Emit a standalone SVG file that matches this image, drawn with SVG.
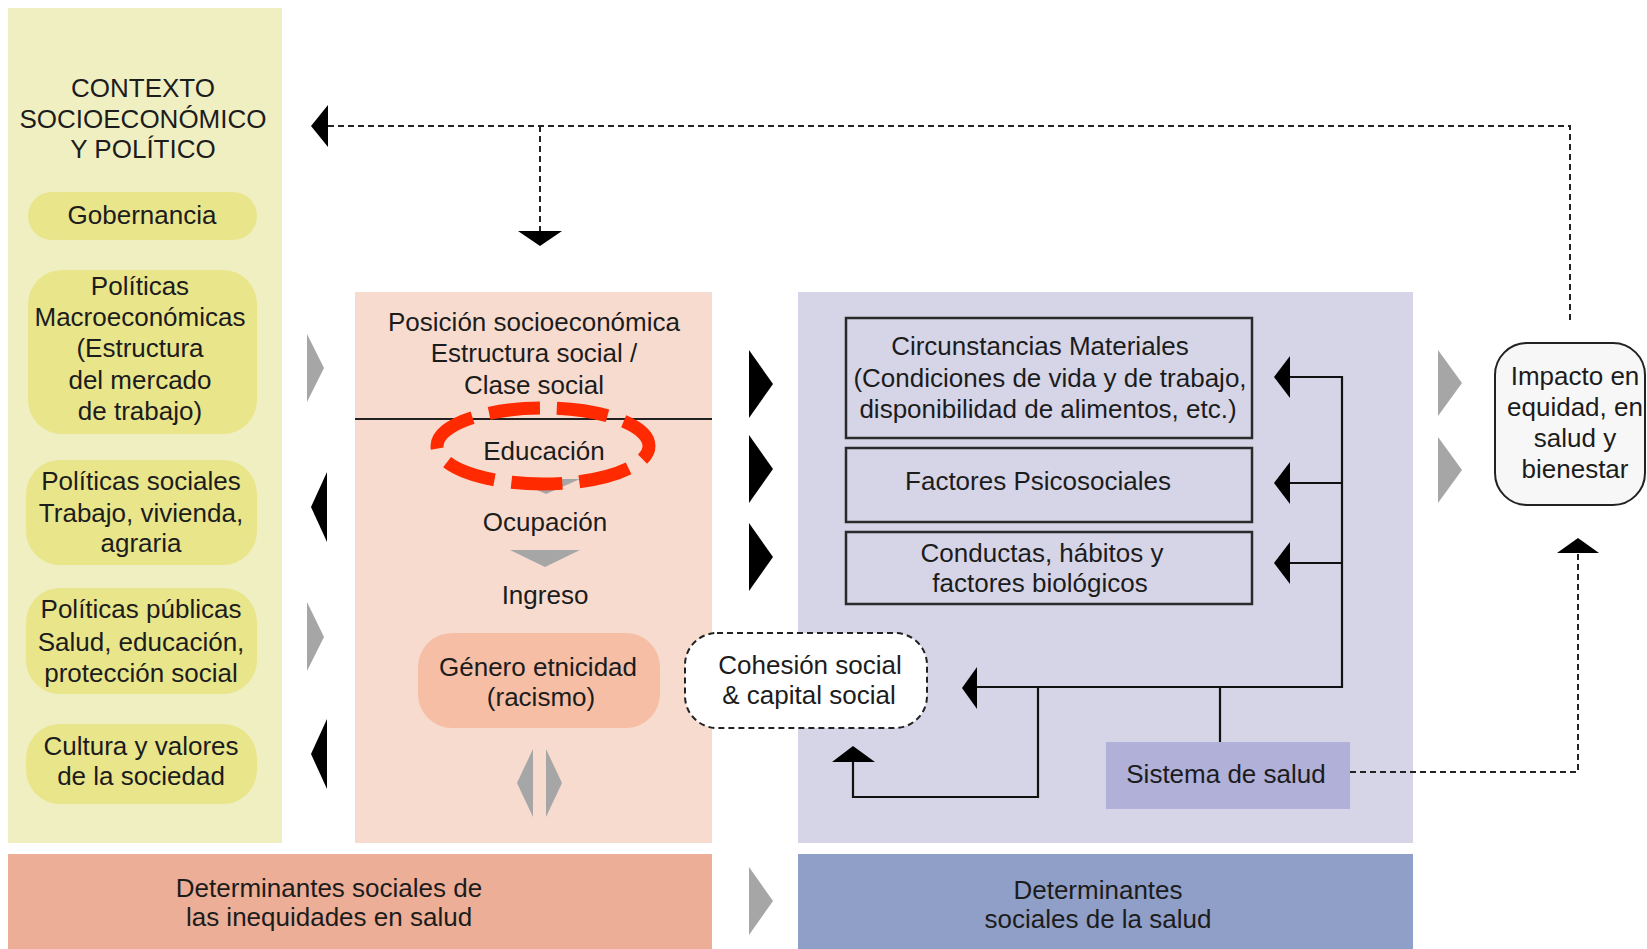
<svg xmlns="http://www.w3.org/2000/svg" width="1647" height="949" viewBox="0 0 1647 949">
<style>
text{font-family:"Liberation Sans",Arial,sans-serif;font-size:26px;fill:#1c1c1c;text-anchor:middle}
.pill{fill:#e9e58b}
.box{fill:none;stroke:#2a2a2a;stroke-width:2.5}
.ln{fill:none;stroke:#111;stroke-width:2.2}
.dash{fill:none;stroke:#222;stroke-width:2;stroke-dasharray:6 4}
.blk{fill:#000}
.gry{fill:#a6a6a6}
</style>
<rect width="1647" height="949" fill="#ffffff"/>

<g id="panel-contexto">
<rect x="8" y="8" width="274" height="835" fill="#f0efc1"/>
<text x="143" y="97">CONTEXTO</text>
<text x="143" y="128">SOCIOECONÓMICO</text>
<text x="143" y="158">Y POLÍTICO</text>
</g>
<g id="gobernancia">
<rect class="pill" x="28" y="192" width="229" height="48" rx="24"/>
<text x="142" y="224">Gobernancia</text>
</g>
<g id="politicas-macro">
<rect class="pill" x="28" y="270" width="229" height="164" rx="34"/>
<text x="140" y="295">Políticas</text>
<text x="140" y="326">Macroeconómicas</text>
<text x="140" y="357">(Estructura</text>
<text x="140" y="389">del mercado</text>
<text x="140" y="420">de trabajo)</text>
</g>
<g id="politicas-sociales">
<rect class="pill" x="26" y="460" width="231" height="105" rx="34"/>
<text x="141" y="490">Políticas sociales</text>
<text x="141" y="522">Trabajo, vivienda,</text>
<text x="141" y="552">agraria</text>
</g>
<g id="politicas-publicas">
<rect class="pill" x="26" y="588" width="231" height="106" rx="34"/>
<text x="141" y="618">Políticas públicas</text>
<text x="141" y="651">Salud, educación,</text>
<text x="141" y="682">protección social</text>
</g>
<g id="cultura">
<rect class="pill" x="26" y="724" width="231" height="80" rx="34"/>
<text x="141" y="755">Cultura y valores</text>
<text x="141" y="785">de la sociedad</text>
</g>

<g id="posicion">
<rect x="355" y="292" width="357" height="551" fill="#f7dbcf"/>
<text x="534" y="331">Posición socioeconómica</text>
<text x="534" y="362">Estructura social /</text>
<text x="534" y="394">Clase social</text>
<line x1="355" y1="419" x2="712" y2="419" stroke="#222" stroke-width="2"/>
<text x="544" y="460">Educación</text>
<polygon class="gry" points="512,479 580,479 546,494"/>
<text x="545" y="531">Ocupación</text>
<polygon class="gry" points="510,550 580,550 545,567"/>
<text x="545" y="604">Ingreso</text>
<polygon class="gry" points="533,749 517,783 533,817"/>
<polygon class="gry" points="546,749 562,783 546,817"/>
</g>
<g id="genero">
<rect x="418" y="633" width="242" height="95" rx="34" fill="#f5bea5"/>
<text x="538" y="676">Género etnicidad</text>
<text x="541" y="706">(racismo)</text>
</g>
<g id="resaltado-educacion">
<ellipse cx="543" cy="446" rx="106" ry="38" fill="none" stroke="#ff2a00" stroke-width="13" stroke-dasharray="51 17" stroke-dashoffset="36"/>
</g>

<g id="determinantes-salud-panel">
<rect x="798" y="292" width="615" height="551" fill="#d6d5e8"/>
</g>
<g id="circunstancias">
<rect class="box" x="846" y="318" width="406" height="120"/>
<text x="1040" y="355">Circunstancias Materiales</text>
<text x="1050" y="387">(Condiciones de vida y de trabajo,</text>
<text x="1048" y="418">disponibilidad de alimentos, etc.)</text>
</g>
<g id="psicosociales">
<rect class="box" x="846" y="448" width="406" height="74"/>
<text x="1038" y="490">Factores Psicosociales</text>
</g>
<g id="conductas">
<rect class="box" x="846" y="532" width="406" height="72"/>
<text x="1042" y="562">Conductas, hábitos y</text>
<text x="1040" y="592">factores biológicos</text>
</g>
<g id="sistema-salud">
<rect x="1106" y="742" width="244" height="67" fill="#b0b0d9"/>
<text x="1226" y="783">Sistema de salud</text>
</g>
<g id="cohesion">
<rect x="685" y="633" width="242" height="95" rx="32" fill="#ffffff" stroke="#222" stroke-width="2" stroke-dasharray="6 4"/>
<text x="810" y="674">Cohesión social</text>
<text x="809" y="704">&amp; capital social</text>
</g>
<g id="impacto">
<rect x="1495" y="343" width="150" height="162" rx="32" fill="#f7f7f7" stroke="#222" stroke-width="2"/>
<text x="1575" y="385">Impacto en</text>
<text x="1575" y="416">equidad, en</text>
<text x="1575" y="447">salud y</text>
<text x="1575" y="478">bienestar</text>
</g>
<g id="determinantes-inequidades">
<rect x="8" y="854" width="704" height="95" fill="#ecae97"/>
<text x="329" y="897">Determinantes sociales de</text>
<text x="329" y="926">las inequidades en salud</text>
</g>
<g id="determinantes-sociales">
<rect x="798" y="854" width="615" height="95" fill="#8f9fc8"/>
<text x="1098" y="899">Determinantes</text>
<text x="1098" y="928">sociales de la salud</text>
</g>

<g id="connectors">
<path class="dash" d="M328,126 H1570 V320"/>
<path class="dash" d="M540,126 V231"/>
<polygon class="blk" points="311,126 328,105 328,147"/>
<polygon class="blk" points="518,231 562,231 540,246"/>

<polygon class="gry" points="307,334 324,368 307,402"/>
<polygon class="blk" points="327,472 311,507 327,542"/>
<polygon class="gry" points="307,602 324,637 307,671"/>
<polygon class="blk" points="327,719 311,754 327,789"/>

<polygon class="blk" points="749,350 773,384 749,418"/>
<polygon class="blk" points="749,435 773,469 749,503"/>
<polygon class="blk" points="749,523 773,557 749,591"/>
<polygon class="gry" points="749,867 773,901 749,935"/>

<polygon class="gry" points="1438,350 1462,383 1438,416"/>
<polygon class="gry" points="1438,437 1462,470 1438,503"/>

<path class="ln" d="M1290,377 H1342 V687 H977"/>
<path class="ln" d="M1290,483 H1342"/>
<path class="ln" d="M1290,563 H1342"/>
<polygon class="blk" points="1274,377 1290,356 1290,398"/>
<polygon class="blk" points="1274,483 1290,462 1290,504"/>
<polygon class="blk" points="1274,563 1290,542 1290,584"/>
<polygon class="blk" points="962,688 977,667 977,709"/>
<path class="ln" d="M1220,687 V742"/>
<path class="ln" d="M1038,687 V797 H853 V761"/>
<polygon class="blk" points="832,762 875,762 853,746"/>

<path class="dash" d="M1350,772 H1578 V553"/>
<polygon class="blk" points="1557,553 1599,553 1578,538"/>
</g>
</svg>
